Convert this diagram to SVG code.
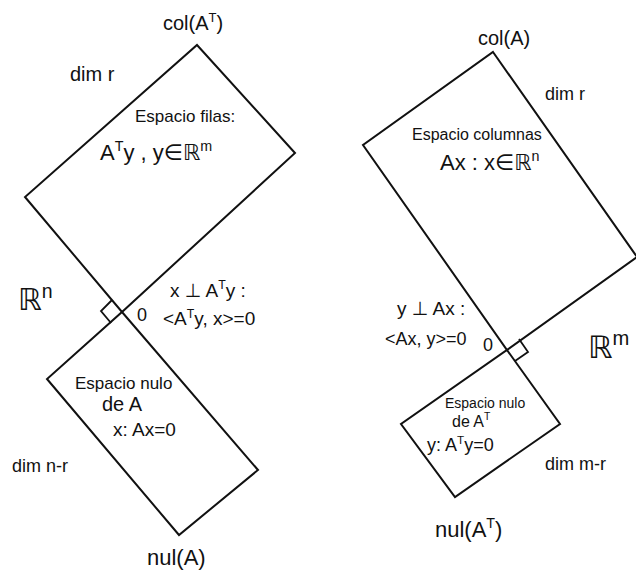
<svg xmlns="http://www.w3.org/2000/svg" width="636" height="571" viewBox="0 0 636 571">
<style>
.box{fill:none;stroke:#111;stroke-width:2;stroke-linejoin:miter}
.mk{fill:none;stroke:#111;stroke-width:1.8}
text{font-family:"Liberation Sans","DejaVu Sans",sans-serif;fill:#111}
.sup{font-size:65%}
</style>
<rect width="636" height="571" fill="#fff"/>
<g id="row-space">
<polygon class="box" points="197,45 295,153 122,312 25,197"/>
<text x="163" y="30" font-size="20">col(A<tspan class="sup" dy="-8">T</tspan><tspan dy="8">)</tspan></text>
<text x="70" y="81" font-size="20">dim r</text>
<text x="135" y="122" font-size="17">Espacio filas:</text>
<text x="100" y="160" font-size="22">A<tspan class="sup" dy="-9">T</tspan><tspan dy="9">y , y∈ℝ</tspan><tspan class="sup" dy="-9">m</tspan></text>
</g>
<g id="null-space">
<polygon class="box" points="122,312 258,470 179,535 47,379"/>
<text x="75" y="389" font-size="17">Espacio nulo</text>
<text x="102" y="411" font-size="20">de A</text>
<text x="113" y="436" font-size="19">x: Ax=0</text>
<text x="12" y="472" font-size="18">dim n-r</text>
<text x="147" y="565" font-size="22">nul(A)</text>
</g>
<g id="rn-label">
<text x="18" y="310" font-size="30">ℝ<tspan class="sup" dy="-12">n</tspan></text>
<text x="137" y="321" font-size="18">0</text>
<text x="170" y="297" font-size="19">x ⊥ A<tspan class="sup" dy="-8">T</tspan><tspan dy="8">y :</tspan></text>
<text x="163" y="325" font-size="19">&lt;A<tspan class="sup" dy="-7">T</tspan><tspan dy="7">y, x&gt;=0</tspan></text>
</g>
<g id="column-space">
<polygon class="box" points="493,52 637,257 507,350 363,145"/>
<text x="478" y="45" font-size="20">col(A)</text>
<text x="545" y="100" font-size="18">dim r</text>
<text x="412" y="140" font-size="16">Espacio columnas</text>
<text x="440" y="170" font-size="22">Ax : x∈ℝ<tspan class="sup" dy="-9">n</tspan></text>
</g>
<g id="left-null-space">
<polygon class="box" points="507,350 560,424 455,497 401,424"/>
<text x="445" y="408" font-size="14">Espacio nulo</text>
<text x="452" y="427" font-size="16">de A<tspan class="sup" dy="-7">T</tspan></text>
<text x="427" y="451" font-size="18">y: A<tspan class="sup" dy="-7">T</tspan><tspan dy="7">y=0</tspan></text>
<text x="545" y="470" font-size="18">dim m-r</text>
<text x="435" y="537" font-size="22">nul(A<tspan class="sup" dy="-9">T</tspan><tspan dy="9">)</tspan></text>
</g>
<g id="rm-label">
<text x="588" y="358" font-size="31">ℝ<tspan class="sup" dy="-13">m</tspan></text>
<text x="483" y="351" font-size="18">0</text>
<text x="397" y="315" font-size="19">y ⊥ Ax :</text>
<text x="385" y="345" font-size="18">&lt;Ax, y&gt;=0</text>
</g>
<g id="connectors">
<polyline class="mk" points="112,300 101,311 111,323"/>
<polyline class="mk" points="519,339 528,352 515,361"/>
</g>
</svg>
